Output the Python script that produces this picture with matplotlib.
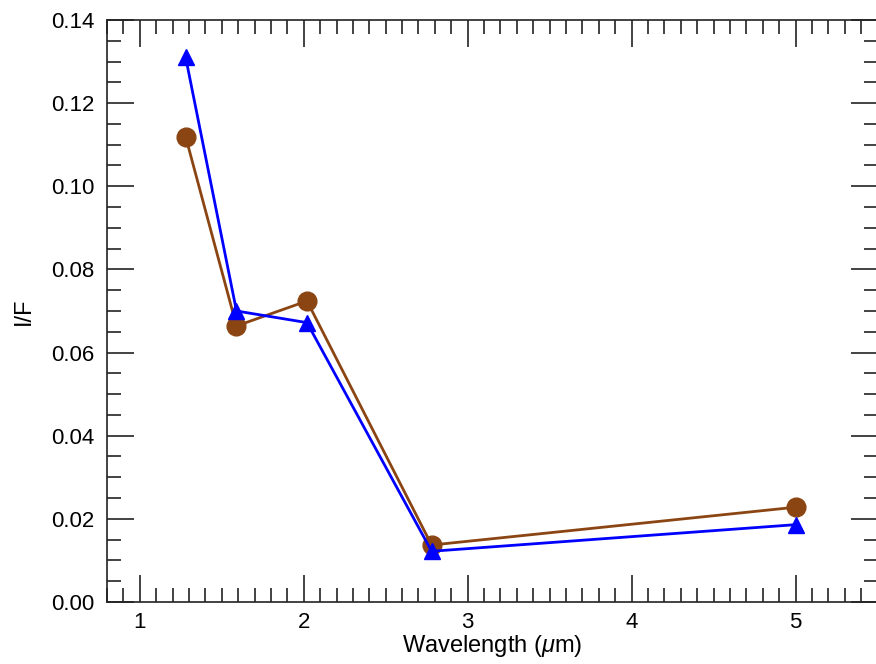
import matplotlib
matplotlib.use('Agg')
import matplotlib.pyplot as plt
from matplotlib.ticker import MultipleLocator

# wavelength (micron) and I/F values
wavelength = [1.28, 1.59, 2.02, 2.78, 5.0]
if_brown = [0.1119, 0.0664, 0.0724, 0.0137, 0.0228]
if_blue = [0.1310, 0.0700, 0.0672, 0.0122, 0.0186]

plt.rcParams['font.family'] = ['Liberation Sans', 'DejaVu Sans']
plt.rcParams['mathtext.fontset'] = 'custom'
plt.rcParams['mathtext.it'] = 'Liberation Sans:italic'

fig = plt.figure(figsize=(8.76, 6.64), dpi=100)
ax = fig.add_axes([0.1221, 0.0934, 1.0018 - 0.1221, 0.9699 - 0.0934])

ax.plot(wavelength, if_brown, color='#8B4513', lw=2.0, marker='o', ms=13.5, zorder=2)
ax.plot(wavelength, if_blue, color='#0000FF', lw=2.0, marker='^', ms=12, zorder=3)

ax.set_xlim(0.8, 5.5)
ax.set_ylim(0.0, 0.14)
ax.xaxis.set_major_locator(MultipleLocator(1))
ax.xaxis.set_minor_locator(MultipleLocator(0.1))
ax.yaxis.set_major_locator(MultipleLocator(0.02))
ax.yaxis.set_minor_locator(MultipleLocator(0.005))
ax.yaxis.set_major_formatter(plt.FormatStrFormatter('%.2f'))

ax.tick_params(which='both', direction='in', top=True, right=True, width=1.2, color='#222222')
ax.tick_params(which='major', length=19.5, labelsize=16, pad=9)
ax.tick_params(which='minor', length=10)
ax.tick_params(axis='x', which='major', pad=7)

for s in ax.spines.values():
    s.set_linewidth(1.2)
    s.set_color('#222222')

ax.set_xlabel(r'Wavelength ($\mu$m)', fontsize=17, labelpad=0)
ax.set_ylabel('I/F', fontsize=17, labelpad=12)

fig.savefig('out.png', dpi=100)
